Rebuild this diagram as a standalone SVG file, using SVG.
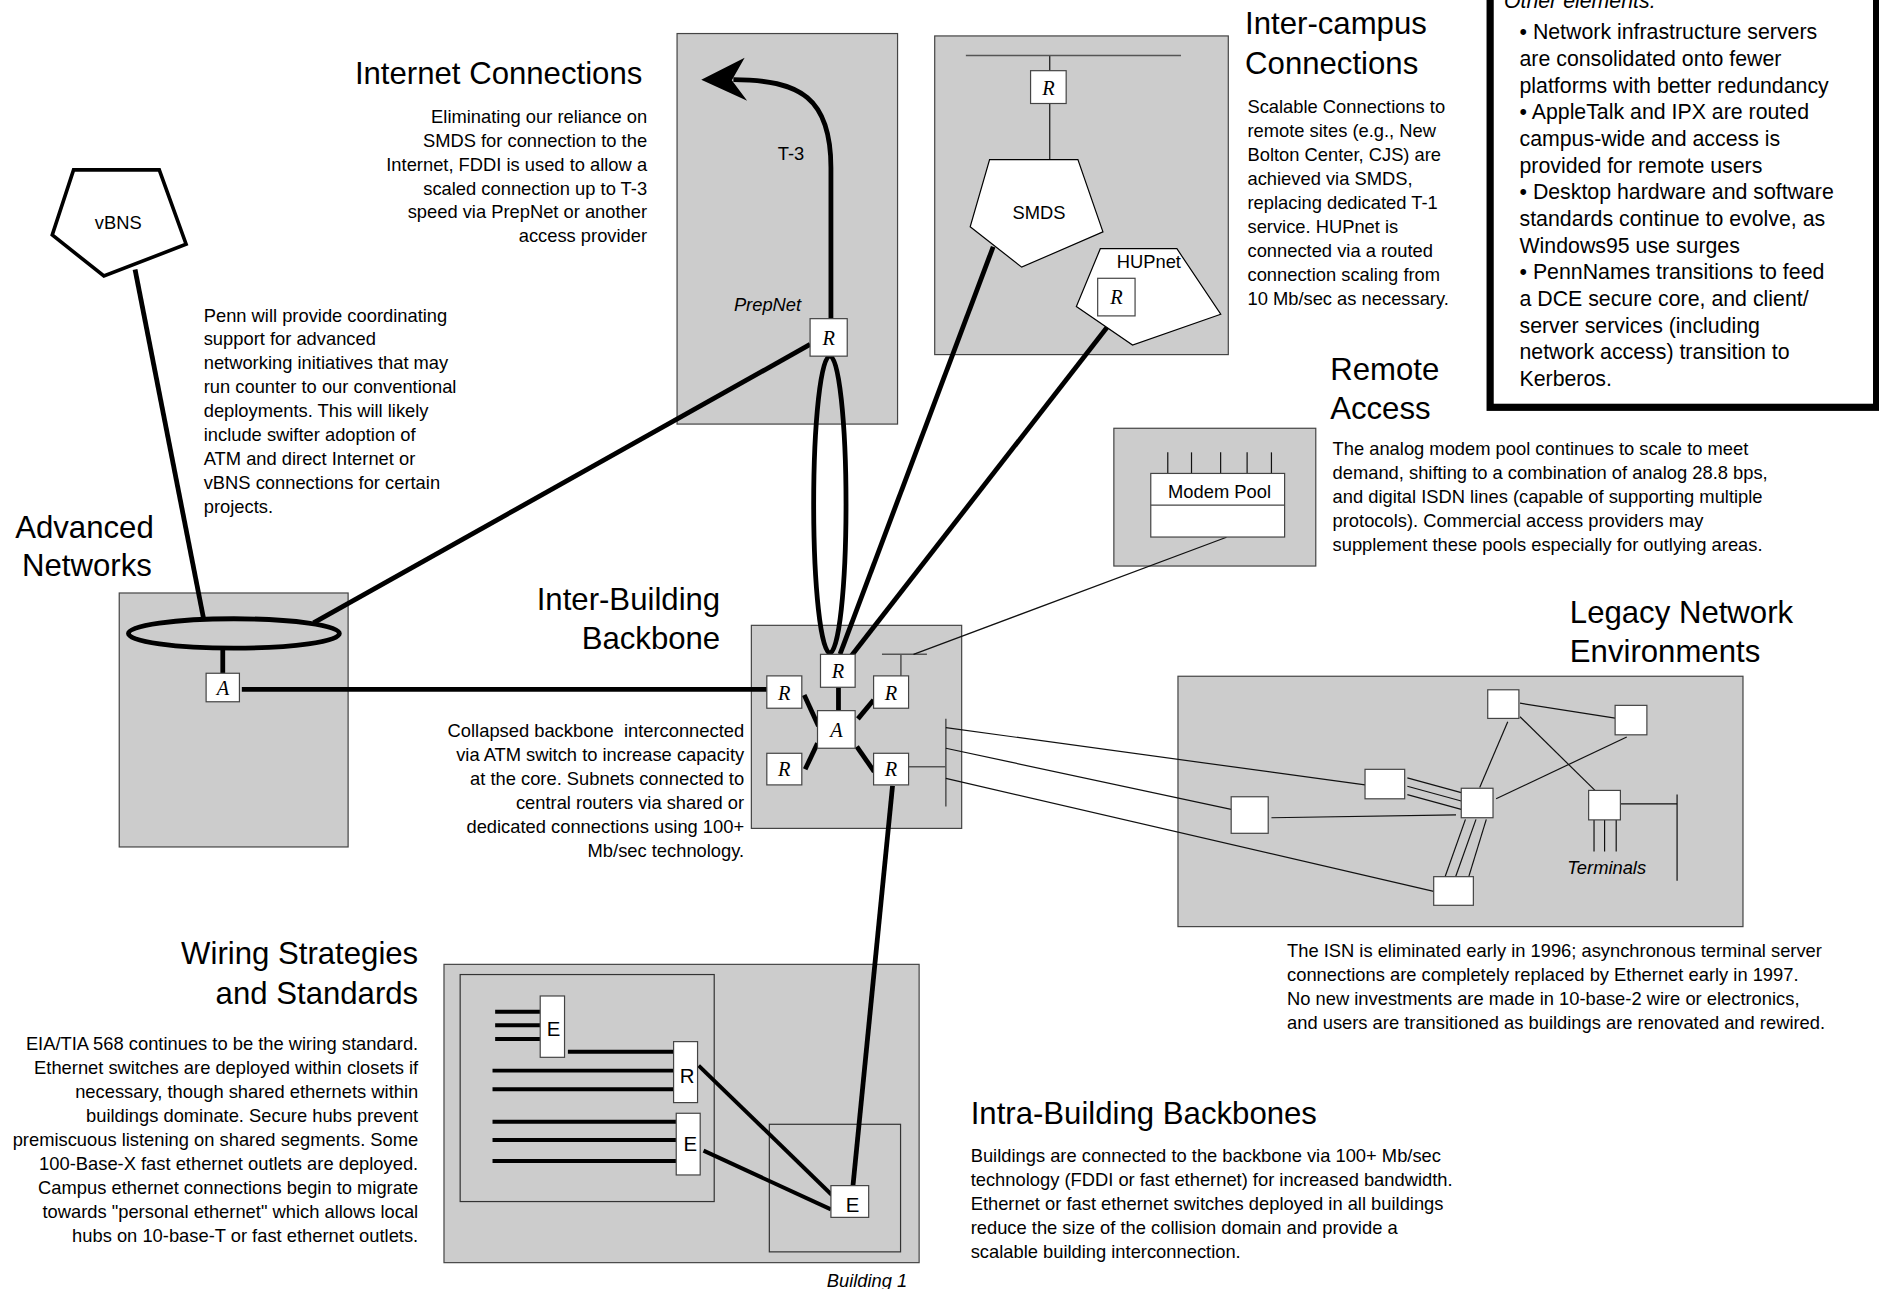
<svg xmlns="http://www.w3.org/2000/svg" width="1879" height="1289" viewBox="0 0 1879 1289">
<style>
text{font-family:"Liberation Sans",Arial,sans-serif;fill:#000}
.t{font-size:26px}
.b{font-size:15.3px}
.o{font-size:17.8px}
.r{text-anchor:end}
.m{text-anchor:middle}
.i{font-style:italic}
.sr{font-family:"Liberation Serif","Times New Roman",serif;font-style:italic;font-size:17px;text-anchor:middle}
.gray{fill:#cccccc;stroke:#444;stroke-width:1}
.wb{fill:#fff;stroke:#444;stroke-width:1}
.thick{stroke:#000;stroke-width:4;fill:none;stroke-linecap:butt}
.med{stroke:#000;stroke-width:3.3;fill:none}
.thin{stroke:#111;stroke-width:1;fill:none}
.bus{stroke:#555;stroke-width:1.3;fill:none}
.poly{fill:#fff;stroke:#000;stroke-width:1}
</style>
<rect width="1879" height="1289" fill="#fff"/>
<g transform="scale(1.19834,1.19796)">
<!-- background boxes -->
<g id="prepnet-box"><rect class="gray" x="565" y="28" width="184" height="326"/></g>
<g id="intercampus-box"><rect class="gray" x="780" y="30" width="245" height="266"/></g>
<g id="advanced-box"><rect class="gray" x="99.5" y="495" width="191" height="212"/></g>
<g id="backbone-box"><rect class="gray" x="627" y="522" width="175.5" height="169.5"/></g>
<g id="modem-box"><rect class="gray" x="929.5" y="357.5" width="168.5" height="115"/></g>
<g id="legacy-box"><rect class="gray" x="983" y="564.5" width="471.5" height="209"/></g>
<g id="building-box"><rect class="gray" x="370.5" y="805" width="396.5" height="249"/>
<rect x="384" y="813.5" width="212" height="189.5" fill="none" stroke="#333" stroke-width="1"/>
<rect x="642" y="938.5" width="109.5" height="106.5" fill="none" stroke="#333" stroke-width="1"/></g>

<!-- connectors -->
<g id="connectors">
<line class="thick" x1="112.7" y1="225" x2="169.8" y2="516"/>
<line class="thick" x1="261.6" y1="520" x2="676" y2="287.5"/>
<line class="thick" x1="185.9" y1="541" x2="185.9" y2="562"/>
<line class="thick" x1="201.8" y1="575.4" x2="640" y2="575.4"/>
<ellipse cx="692.5" cy="421" rx="13.5" ry="124" fill="none" stroke="#000" stroke-width="4"/>
<line class="thick" x1="828.8" y1="206" x2="701" y2="546"/>
<line class="thick" x1="931" y1="264" x2="710" y2="548"/>
<path class="thick" d="M693.4,266 L693.4,140 C693.4,82 668,66.5 612,66.5"/>
<polygon points="585.2,66.5 621.4,48.2 610.7,67 623.5,84.2" fill="#000"/>
<line class="thin" x1="876" y1="46.3" x2="876" y2="59"/>
<line class="thin" x1="876" y1="86.4" x2="876" y2="133.2"/>
<line class="bus" x1="806" y1="46.3" x2="985.5" y2="46.3"/>
<!-- backbone internals -->
<line class="thick" x1="699.7" y1="573.7" x2="699.7" y2="593.2"/>
<line class="thick" x1="671.1" y1="580.1" x2="683" y2="606"/>
<line class="thick" x1="729" y1="584.3" x2="715.9" y2="600.1"/>
<line class="thick" x1="682.2" y1="620.4" x2="671.9" y2="642.2"/>
<line class="thick" x1="715" y1="623.2" x2="729.5" y2="644.1"/>
<line class="bus" x1="736" y1="546.2" x2="773.5" y2="546.2"/>
<line class="bus" x1="751.8" y1="546.2" x2="751.8" y2="564.2"/>
<line class="thin" x1="1023.5" y1="448.5" x2="762.3" y2="546.2"/>
<line class="bus" x1="789.3" y1="600" x2="789.3" y2="673.3"/>
<line class="bus" x1="758.2" y1="640" x2="789.3" y2="640"/>
<line class="thin" x1="789.3" y1="607.4" x2="1139.1" y2="655.2"/>
<line class="thin" x1="789.3" y1="624.6" x2="1027.4" y2="675.6"/>
<line class="thin" x1="789.3" y1="649.7" x2="1196.4" y2="744.1"/>
<line class="thick" x1="744.8" y1="656" x2="711.8" y2="989.7"/>
<!-- modem ticks -->
<line class="thin" x1="974.5" y1="377.6" x2="974.5" y2="395.2"/>
<line class="thin" x1="994.3" y1="377.6" x2="994.3" y2="395.2"/>
<line class="thin" x1="1018.6" y1="377.6" x2="1018.6" y2="395.2"/>
<line class="thin" x1="1040.7" y1="377.6" x2="1040.7" y2="395.2"/>
<line class="thin" x1="1061" y1="377.6" x2="1061" y2="395.2"/>
<!-- legacy internals -->
<line class="thin" x1="1268.4" y1="587" x2="1347.8" y2="599.4"/>
<line class="thin" x1="1258.2" y1="602.5" x2="1234.8" y2="657.3"/>
<line class="thin" x1="1268.4" y1="598.3" x2="1331" y2="659.8"/>
<line class="thin" x1="1357.5" y1="615.2" x2="1248.5" y2="666.8"/>
<line class="thin" x1="1174.4" y1="649.3" x2="1219.4" y2="661.6"/>
<line class="thin" x1="1174.4" y1="656.3" x2="1219.4" y2="668.6"/>
<line class="thin" x1="1174.4" y1="663.3" x2="1219.4" y2="675.6"/>
<line class="thin" x1="1061" y1="682.6" x2="1215" y2="680.2"/>
<line class="thin" x1="1222.9" y1="684" x2="1205.3" y2="733.6"/>
<line class="thin" x1="1231.7" y1="684" x2="1214.1" y2="733.6"/>
<line class="thin" x1="1240.3" y1="684" x2="1225.1" y2="733.6"/>
<line class="thin" x1="1352.2" y1="671" x2="1399.5" y2="671"/>
<line class="thin" x1="1399.5" y1="663.3" x2="1399.5" y2="735.3"/>
<line class="thin" x1="1330.2" y1="684.4" x2="1330.2" y2="710.8"/>
<line class="thin" x1="1339" y1="684.4" x2="1339" y2="710.8"/>
<line class="thin" x1="1348.7" y1="684.4" x2="1348.7" y2="710.8"/>
<!-- building internals -->
<line class="med" x1="413.2" y1="844.5" x2="450.8" y2="844.5"/>
<line class="med" x1="413.2" y1="855.9" x2="450.8" y2="855.9"/>
<line class="med" x1="413.2" y1="867.3" x2="450.8" y2="867.3"/>
<line class="med" x1="473.9" y1="877.9" x2="562.1" y2="877.9"/>
<line class="med" x1="411" y1="893.7" x2="562.1" y2="893.7"/>
<line class="med" x1="411" y1="909.3" x2="562.1" y2="909.3"/>
<line class="med" x1="411" y1="936.3" x2="564.3" y2="936.3"/>
<line class="med" x1="411" y1="951.6" x2="564.3" y2="951.6"/>
<line class="med" x1="411" y1="969.1" x2="564.3" y2="969.1"/>
<line class="med" x1="583" y1="889.5" x2="694.2" y2="997.5"/>
<line class="med" x1="587.1" y1="960.5" x2="693.4" y2="1009.5"/>
</g>

<!-- nodes -->
<g id="vbns"><polygon points="61.4,141.8 132.9,141.8 155.3,203.9 86.7,230.4 43.6,196.1" fill="#fff" stroke="#000" stroke-width="3"/><text class="b m" x="98.7" y="191">vBNS</text></g>
<g id="adv-ring"><ellipse cx="195.2" cy="528.8" rx="88" ry="12.3" fill="none" stroke="#000" stroke-width="4"/></g>
<g id="adv-atm"><rect class="wb" x="172" y="562" width="27.8" height="23.8"/><text class="sr" x="186" y="580">A</text></g>
<g id="prepnet-router"><rect class="wb" x="676" y="266" width="31" height="31.3"/><text class="sr" x="691.5" y="288">R</text></g>
<g id="smds-router"><rect class="wb" x="860" y="59" width="29.7" height="27.4"/><text class="sr" x="875" y="79">R</text></g>
<g id="smds"><polygon class="poly" points="825.8,133.2 899.5,133.2 920.4,193.5 852.6,223 809.6,189.3"/><text class="b m" x="867" y="183">SMDS</text></g>
<g id="hupnet"><polygon class="poly" points="918.2,207.6 982.1,207.6 1018.7,262.3 945.1,288 898.2,255.8"/><text class="b m" x="958.7" y="224">HUPnet</text>
<rect class="wb" x="916" y="232.3" width="31.2" height="31.4"/><text class="sr" x="931.6" y="254">R</text></g>
<g id="bb-r-top"><rect class="wb" x="684.7" y="546.2" width="28.9" height="27.5"/><text class="sr" x="699.2" y="566">R</text></g>
<g id="bb-r-left"><rect class="wb" x="639.9" y="564.2" width="29.2" height="27"/><text class="sr" x="654.5" y="584">R</text></g>
<g id="bb-r-right"><rect class="wb" x="729" y="564.2" width="29.2" height="27"/><text class="sr" x="743.6" y="584">R</text></g>
<g id="bb-atm"><rect class="wb" x="682.2" y="593.2" width="31.4" height="31.4"/><text class="sr" x="698" y="615">A</text></g>
<g id="bb-r-bl"><rect class="wb" x="639.9" y="628.8" width="29.2" height="26.4"/><text class="sr" x="654.5" y="648">R</text></g>
<g id="bb-r-br"><rect class="wb" x="729" y="628.8" width="29.2" height="26.4"/><text class="sr" x="743.6" y="648">R</text></g>
<g id="modem-pool"><rect class="wb" x="960.3" y="395.2" width="111.7" height="53.1"/><line x1="960.3" y1="421.6" x2="1072" y2="421.6" stroke="#444" stroke-width="1"/><text class="b m" x="1017.7" y="415.5">Modem Pool</text></g>
<g id="legacy-n1"><rect class="wb" x="1241.5" y="575.8" width="26" height="23.9"/></g>
<g id="legacy-n2"><rect class="wb" x="1347.8" y="588.8" width="26.5" height="24.6"/></g>
<g id="legacy-n3"><rect class="wb" x="1139.1" y="642.2" width="33.1" height="24.6"/></g>
<g id="legacy-n4"><rect class="wb" x="1027.4" y="665.1" width="30.9" height="30.5"/></g>
<g id="legacy-n5"><rect class="wb" x="1219.4" y="658" width="26.5" height="24.6"/></g>
<g id="legacy-n6"><rect class="wb" x="1325.7" y="659.8" width="26.5" height="24.6"/></g>
<g id="legacy-n7"><rect class="wb" x="1196.4" y="731.8" width="33.1" height="23.9"/></g>
<g id="bld-e1"><rect class="wb" x="450.8" y="831.4" width="20.3" height="51.2"/><text class="b m" x="462" y="865" style="font-size:17px">E</text></g>
<g id="bld-r"><rect class="wb" x="562.1" y="869.5" width="20" height="50.9"/><text class="b m" x="573.3" y="904" style="font-size:17px">R</text></g>
<g id="bld-e2"><rect class="wb" x="564.3" y="929.3" width="20" height="51.5"/><text class="b m" x="576" y="960.5" style="font-size:17px">E</text></g>
<g id="bld-e3"><rect class="wb" x="693.4" y="989.7" width="31.5" height="26.5"/><text class="b m" x="711.5" y="1012" style="font-size:17px">E</text></g>

<!-- labels -->
<g id="labels">
<text class="b" x="649" y="133.5">T-3</text>
<text class="b i m" x="640.5" y="259.5">PrepNet</text>
<text class="b i m" x="1340.8" y="729.5">Terminals</text>
<text class="b i m" x="723.5" y="1074">Building 1</text>

<text class="t r" x="536" y="70">Internet Connections</text>
<text class="b r" x="540"><tspan x="540" y="102.4">Eliminating our reliance on</tspan><tspan x="540" y="122.4">SMDS for connection to the</tspan><tspan x="540" y="142.4">Internet, FDDI is used to allow a</tspan><tspan x="540" y="162.4">scaled connection up to T-3</tspan><tspan x="540" y="182.4">speed via PrepNet or another</tspan><tspan x="540" y="202.4">access provider</tspan></text>

<text class="b" x="170"><tspan x="170" y="268.4">Penn will provide coordinating</tspan><tspan x="170" y="288.4">support for advanced</tspan><tspan x="170" y="308.4">networking initiatives that may</tspan><tspan x="170" y="328.4">run counter to our conventional</tspan><tspan x="170" y="348.4">deployments. This will likely</tspan><tspan x="170" y="368.4">include swifter adoption of</tspan><tspan x="170" y="388.4">ATM and direct Internet or</tspan><tspan x="170" y="408.4">vBNS connections for certain</tspan><tspan x="170" y="428.4">projects.</tspan></text>

<text class="t m" x="70.5" y="449">Advanced</text>
<text class="t m" x="72.5" y="481">Networks</text>

<text class="t r" x="601" y="509">Inter-Building</text>
<text class="t r" x="601" y="542">Backbone</text>
<text class="b r" x="621"><tspan x="621" y="615.4">Collapsed backbone&#160; interconnected</tspan><tspan x="621" y="635.4">via ATM switch to increase capacity</tspan><tspan x="621" y="655.4">at the core. Subnets connected to</tspan><tspan x="621" y="675.4">central routers via shared or</tspan><tspan x="621" y="695.4">dedicated connections using 100+</tspan><tspan x="621" y="715.4">Mb/sec technology.</tspan></text>

<text class="t" x="1039" y="28">Inter-campus</text>
<text class="t" x="1039" y="62">Connections</text>
<text class="b" x="1041"><tspan x="1041" y="94.4">Scalable Connections to</tspan><tspan x="1041" y="114.4">remote sites (e.g., New</tspan><tspan x="1041" y="134.4">Bolton Center, CJS) are</tspan><tspan x="1041" y="154.4">achieved via SMDS,</tspan><tspan x="1041" y="174.4">replacing dedicated T-1</tspan><tspan x="1041" y="194.4">service. HUPnet is</tspan><tspan x="1041" y="214.4">connected via a routed</tspan><tspan x="1041" y="234.4">connection scaling from</tspan><tspan x="1041" y="254.4">10 Mb/sec as necessary.</tspan></text>

<text class="t" x="1110" y="317">Remote</text>
<text class="t" x="1110" y="350">Access</text>
<text class="b" x="1112"><tspan x="1112" y="380">The analog modem pool continues to scale to meet</tspan><tspan x="1112" y="400">demand, shifting to a combination of analog 28.8 bps,</tspan><tspan x="1112" y="420">and digital ISDN lines (capable of supporting multiple</tspan><tspan x="1112" y="440">protocols). Commercial access providers may</tspan><tspan x="1112" y="460">supplement these pools especially for outlying areas.</tspan></text>

<text class="t" x="1310" y="520">Legacy Network</text>
<text class="t" x="1310" y="553">Environments</text>
<text class="b" x="1074"><tspan x="1074" y="798.7">The ISN is eliminated early in 1996; asynchronous terminal server</tspan><tspan x="1074" y="818.7">connections are completely replaced by Ethernet early in 1997.</tspan><tspan x="1074" y="838.7">No new investments are made in 10-base-2 wire or electronics,</tspan><tspan x="1074" y="858.7">and users are transitioned as buildings are renovated and rewired.</tspan></text>

<text class="t r" x="349" y="805">Wiring Strategies</text>
<text class="t r" x="349" y="838">and Standards</text>
<text class="b r" x="349"><tspan x="349" y="876.4">EIA/TIA 568 continues to be the wiring standard.</tspan><tspan x="349" y="896.4">Ethernet switches are deployed within closets if</tspan><tspan x="349" y="916.4">necessary, though shared ethernets within</tspan><tspan x="349" y="936.4">buildings dominate. Secure hubs prevent</tspan><tspan x="349" y="956.4">premiscuous listening on shared segments. Some</tspan><tspan x="349" y="976.4">100-Base-X fast ethernet outlets are deployed.</tspan><tspan x="349" y="996.4">Campus ethernet connections begin to migrate</tspan><tspan x="349" y="1016.4">towards "personal ethernet" which allows local</tspan><tspan x="349" y="1036.4">hubs on 10-base-T or fast ethernet outlets.</tspan></text>

<text class="t" x="810" y="938">Intra-Building Backbones</text>
<text class="b" x="810"><tspan x="810" y="970.4">Buildings are connected to the backbone via 100+ Mb/sec</tspan><tspan x="810" y="990.4">technology (FDDI or fast ethernet) for increased bandwidth.</tspan><tspan x="810" y="1010.4">Ethernet or fast ethernet switches deployed in all buildings</tspan><tspan x="810" y="1030.4">reduce the size of the collision domain and provide a</tspan><tspan x="810" y="1050.4">scalable building interconnection.</tspan></text>
</g>

<g id="other-elements">
<rect x="1243.5" y="-20" width="322.5" height="360" fill="#fff" stroke="#000" stroke-width="6"/>
<text class="o i" x="1255" y="7">Other elements:</text>
<text class="o" x="1268"><tspan x="1268" y="32.9">• Network infrastructure servers</tspan><tspan x="1268" y="55.2">are consolidated onto fewer</tspan><tspan x="1268" y="77.5">platforms with better redundancy</tspan><tspan x="1268" y="99.7">• AppleTalk and IPX are routed</tspan><tspan x="1268" y="122">campus-wide and access is</tspan><tspan x="1268" y="144.2">provided for remote users</tspan><tspan x="1268" y="166.5">• Desktop hardware and software</tspan><tspan x="1268" y="188.8">standards continue to evolve, as</tspan><tspan x="1268" y="211">Windows95 use surges</tspan><tspan x="1268" y="233.3">• PennNames transitions to feed</tspan><tspan x="1268" y="255.5">a DCE secure core, and client/</tspan><tspan x="1268" y="277.8">server services (including</tspan><tspan x="1268" y="300">network access) transition to</tspan><tspan x="1268" y="322.3">Kerberos.</tspan></text>
</g>
</g>
</svg>
